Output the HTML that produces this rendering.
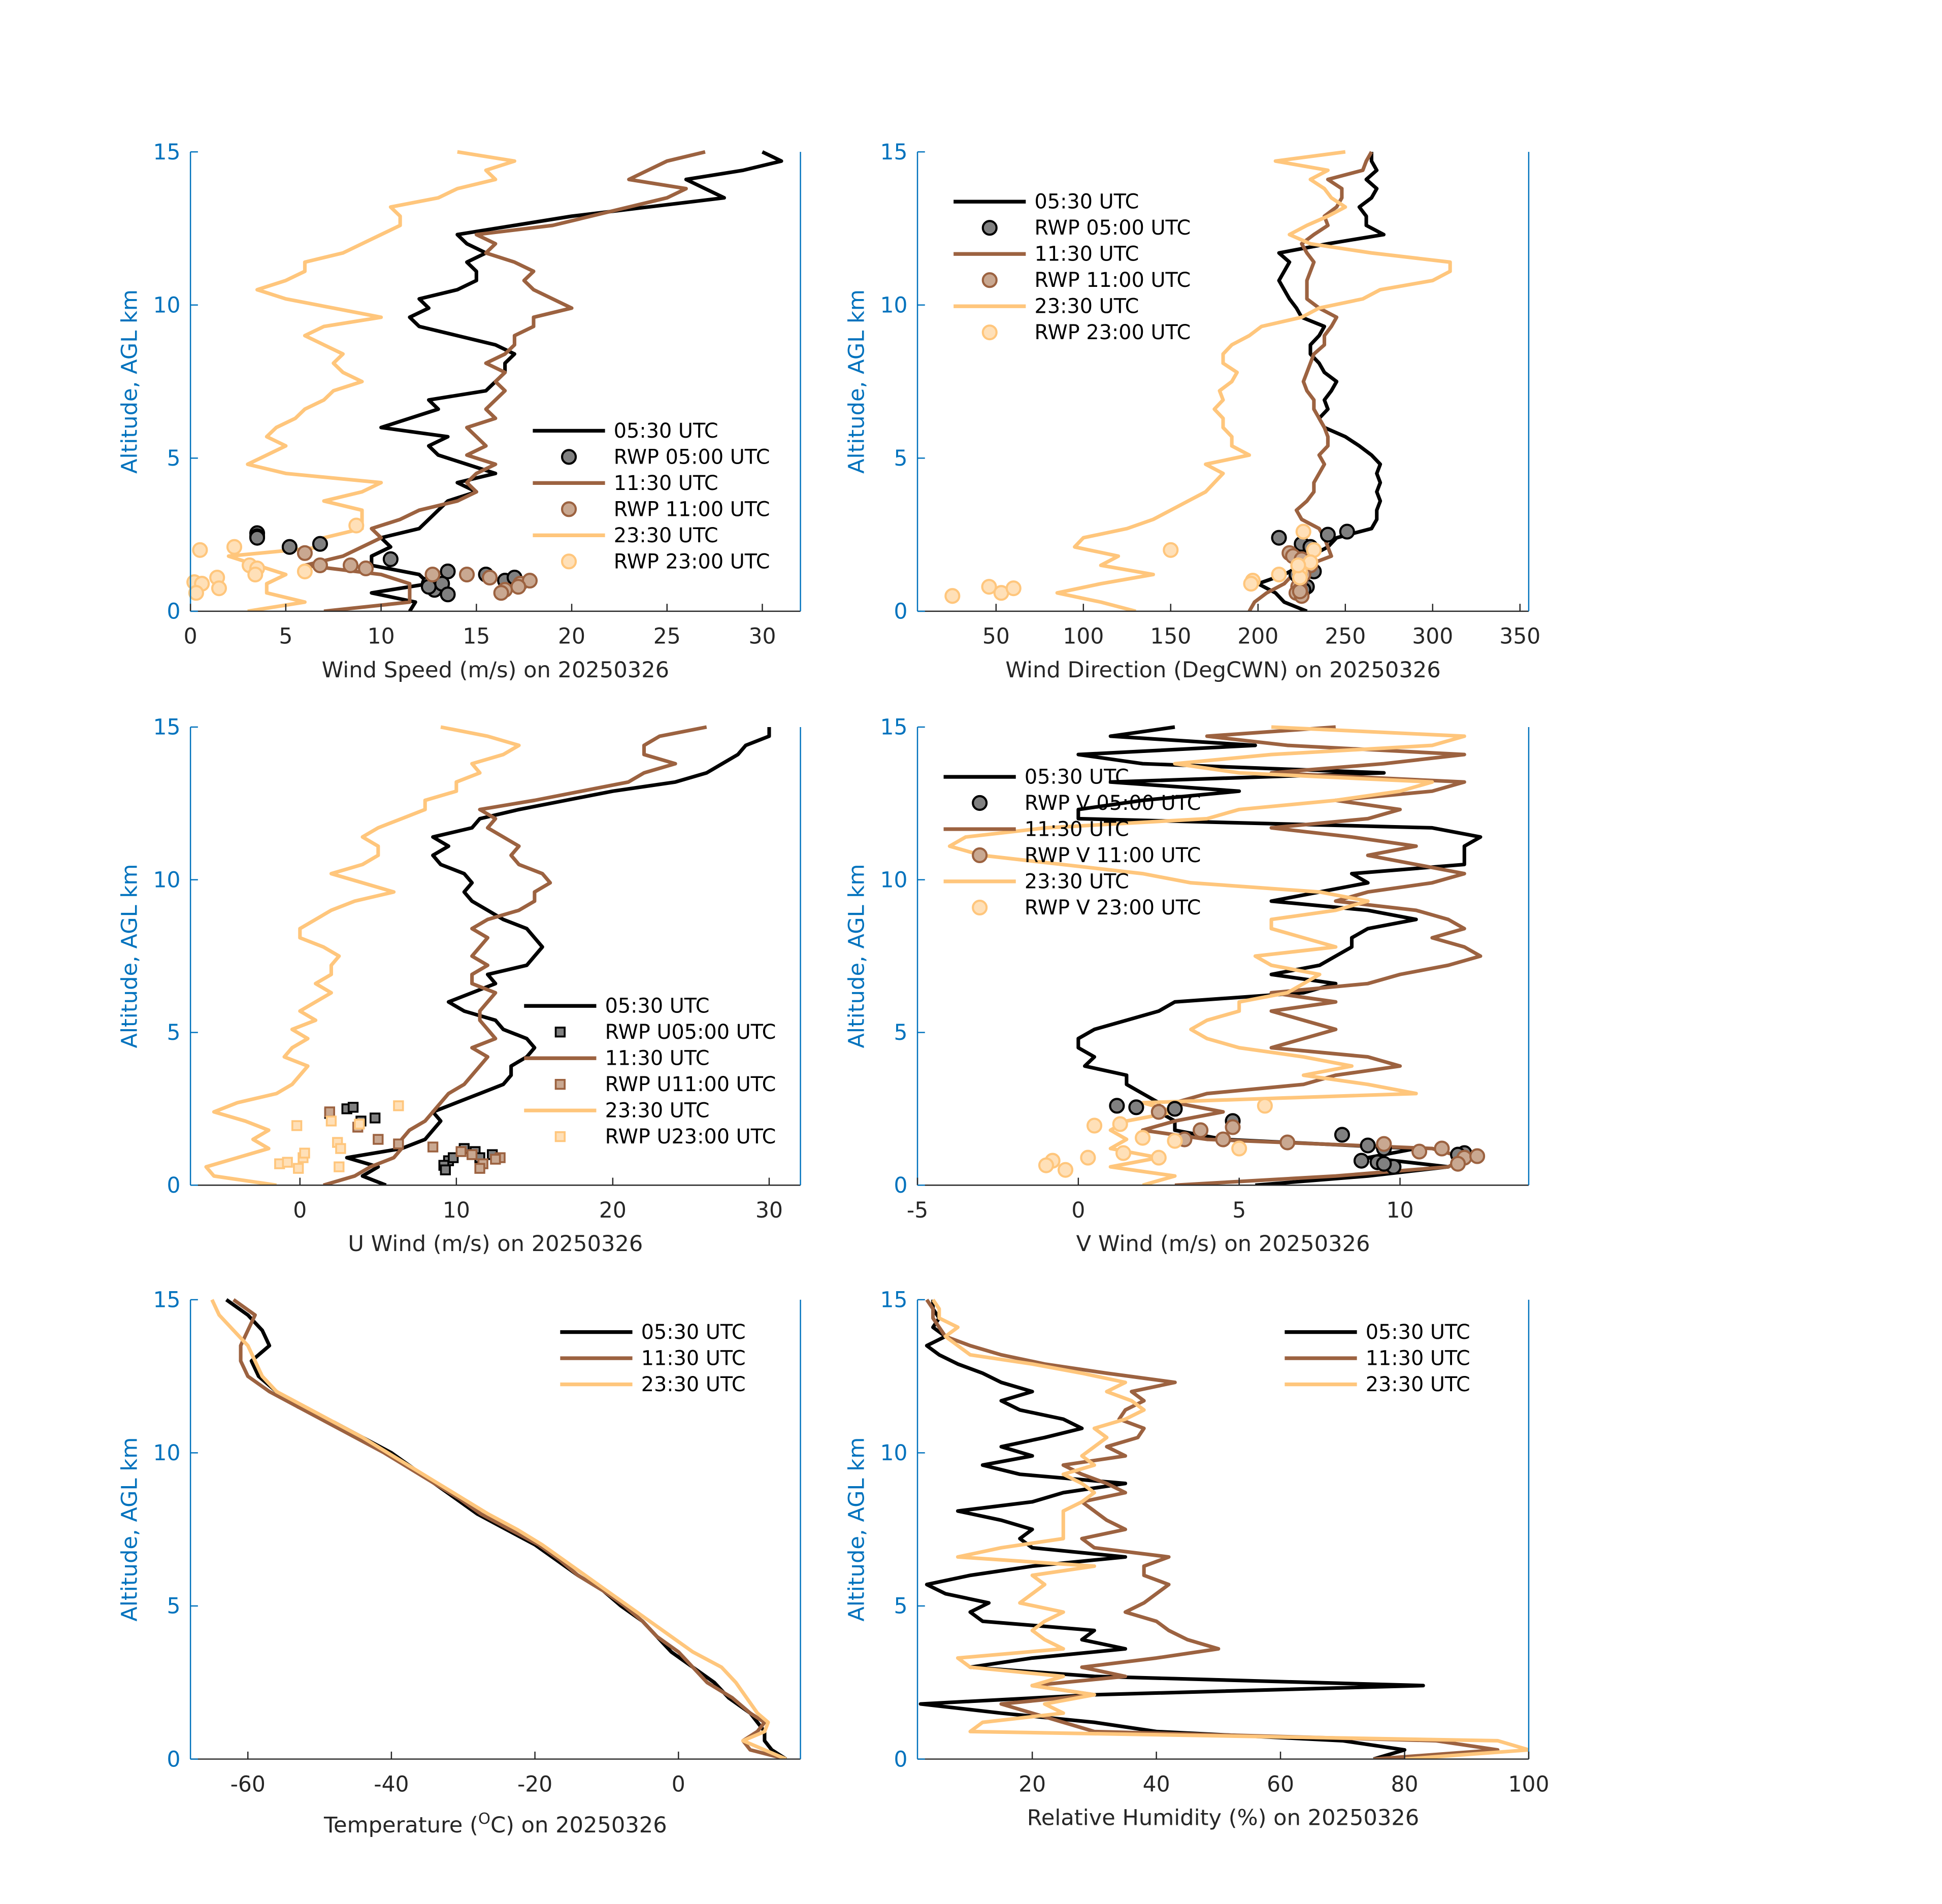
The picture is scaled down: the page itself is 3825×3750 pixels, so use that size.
<!DOCTYPE html>
<html><head><meta charset="utf-8"><style>
html,body{margin:0;padding:0;background:#fff;}
svg{display:block;font-family:"DejaVu Sans","Liberation Sans",sans-serif;}
</style></head><body>
<svg id="fig" xmlns="http://www.w3.org/2000/svg" width="3825" height="3750" viewBox="0 0 1560 1529.4"></svg>
<script>
// ---- data (altitudes in km) ----
const altA=[0,0.3,0.6,0.9,1.2,1.5,1.8,2.1,2.4,2.7,3.0,3.3,3.6,3.9,4.2,4.5,4.8,5.1,5.4,5.7,6.0,6.3,6.6,6.9,7.2,7.5,7.8,8.1,8.4,8.7,9.0,9.3,9.6,9.9,10.2,10.5,10.8,11.1,11.4,11.7,12.0,12.3,12.6,12.9,13.2,13.5,13.8,14.1,14.4,14.7,15];
const altT=[0,0.3,0.6,0.9,1.2,1.5,2,2.5,3,3.5,4,4.5,5,5.5,6,6.5,7,7.5,8,8.5,9,9.5,10,10.5,11,11.5,12,12.5,13,13.5,14,14.5,15];
// wind speed
const wsBlack=[11.5,11.8,9.5,12.5,12,9.5,9.5,10.5,10,12,12.5,13,13.5,15,14,16,14.5,13,12.5,13.5,10,11.5,13,12.5,15.5,16,16.5,16.5,17,16,14,12,11.5,12.5,12,14,15,15,14.5,15.5,14.5,14,17,20,24,28,27,26,29,31,30];
const wsBrown=[7,11.5,11.5,11.5,10,6,8,9,10,9.5,11,12,14,15,14.5,15,16,14.5,15.5,15,14.5,16,15.5,16,16.5,16,16.5,15.5,16.5,17,17,18,18,20,19,18,17.5,18,17,15.5,16,15,19,21,23,25,26,23,24,25,27];
const wsLight=[3,6,4,4,5,3.5,2,7,7,9,9,9,7,9,10,5,3,4,5,4,4.5,5.5,6,7,7.5,9,8,7.5,8,7,6,7,10,7.5,5,3.5,5,6,6,8,9,10,11,11,10.5,13,14,16,15.5,17,14];
const wsR05=[[3.5,2.55],[3.5,2.45],[3.5,2.4],[5.2,2.1],[6.8,2.2],[10.5,1.7],[13.5,1.3],[15.5,1.2],[16.5,1.0],[17,1.1],[12.5,0.9],[12.8,0.7],[13.2,0.9],[13.5,0.55],[12.5,0.8]];
const wsR11=[[6.0,1.9],[6.8,1.5],[8.4,1.5],[9.2,1.4],[12.7,1.2],[14.5,1.2],[15.7,1.1],[16.5,0.7],[16.3,0.6],[17.3,0.9],[17.8,1.0],[17.2,0.8]];
const wsR23=[[0.5,2.0],[2.3,2.1],[3.1,1.5],[3.5,1.4],[3.4,1.2],[6,1.3],[0.2,0.95],[0.6,0.9],[1.4,1.1],[1.5,0.75],[0.3,0.6],[8.7,2.8]];
// wind direction
const wdBlack=[228,215,210,200,215,225,230,240,245,265,268,268,270,268,270,268,270,265,258,250,238,235,240,238,242,245,238,235,230,230,235,238,225,222,218,215,212,215,218,212,240,272,262,262,258,265,268,262,268,265,265];
const wdBrown=[195,198,205,215,220,228,242,240,238,235,225,222,228,232,232,235,238,235,240,240,238,235,232,232,228,226,228,230,232,238,238,242,245,235,228,228,228,230,232,228,225,232,240,238,245,248,248,240,260,262,265];
const wdLight=[130,110,85,110,140,110,120,95,100,125,140,150,160,170,175,180,170,195,185,185,180,180,175,180,178,185,188,180,180,185,195,202,225,235,260,270,300,310,310,265,230,218,228,240,250,242,238,230,240,210,250];
const wdR05=[[212,2.4],[240,2.5],[251,2.6],[225,2.2],[230,2.1],[228,1.5],[232,1.3],[222,1.2],[225,1.0],[228,0.8],[226,0.7],[224,0.6]];
const wdR11=[[218,1.9],[220,1.8],[225,1.7],[230,1.5],[226,1.2],[224,1.0],[223,0.8],[224,0.7],[222,0.6],[225,0.5],[224,0.65]];
const wdR23=[[25,0.5],[46,0.8],[53,0.6],[60,0.75],[150,2.0],[226,2.6],[232,2.0],[230,1.6],[212,1.2],[197,1.0],[196,0.9],[224,1.3],[224,1.1],[223,1.5]];
// U wind
const uBlack=[5.5,4,5,3,6.5,8,8.5,9,8.5,10,11.5,13,13.5,13.5,14.5,15,14.5,13,12.5,10.5,9.5,11,12.5,12,14.5,15,15.5,15,14.5,13,12,11,10.5,11,10.5,9,8.5,9.5,8.5,11,11.5,14,17,20,24,26,27,28,28.5,30,30];
const uBrown=[1.5,3.5,4.5,6,6.5,6.5,7,8,8.5,9,9.5,10.5,11,11.5,12,11,12.5,12,11.5,11.5,12,12.5,11,11,12,11,11.5,12,11,12,14,15,15,16,15.5,14,13.5,14,13,12,12.5,11.5,15,18,21,22,24,22,22,23,26];
const uLight=[-1.5,-5.5,-6,-4,-2,-3,-2,-3.5,-5.5,-4,-1.5,-0.5,0,0.5,-1,-0.5,0.5,-0.5,1,0,1,2,1,2,2,2.5,1.5,0,0,1,2,3.5,6,4,2,4,5,5,4,5,6.5,8,8,10,10,11.5,11,13,14,12,9];
const uR05=[[1.9,2.35],[3.0,2.5],[3.4,2.55],[4.8,2.2],[3.9,2.1],[9.5,0.8],[9.2,0.65],[9.3,0.5],[10.5,1.2],[11.2,1.1],[12.3,1.0],[9.8,0.9],[11.5,0.9]];
const uR11=[[1.9,2.4],[3.7,1.9],[5,1.5],[6.3,1.35],[8.5,1.25],[10.3,1.1],[11.7,0.7],[11.5,0.55],[12.8,0.9],[12.5,0.85],[11,1.0]];
const uR23=[[-0.2,1.95],[2.0,2.1],[2.4,1.4],[2.6,1.2],[3.8,2.0],[6.3,2.6],[-1.3,0.7],[-0.8,0.75],[0.2,0.9],[0.3,1.05],[-0.1,0.55],[2.5,0.6]];
// V wind
const vBlack=[5.5,9,11.5,9,10.5,4.5,3,3,2.5,2.5,2,1.5,1.5,0.2,0.5,0,0,0.5,1.5,2.5,3,7,8,6,7.5,8,8.5,8.5,9,10.5,9,6,7.5,9,8.5,12,12,12,12.5,11,0,0,2,5,1,9.5,2,0,5.5,1,3];
const vBrown=[3,8,11.5,12,11,4,2,3,4.5,3,4,7,8,10,9,6,7,8,7,6,8,6,9,10,11.5,12.5,12,11,12,11.5,10.5,8,9,11,12,10.5,9,10.5,8.5,6,9,10,8,11,12,6,9.5,12,6.5,4,8];
const vLight=[2,3,1,2.5,1,1.5,1,1.5,3,2,10.5,9,7,8.5,7,5,4,3.5,4,5,5,6.5,7,7.5,6,5.5,8,7,6,6,8,9,7.5,3.5,2,-0.5,-3,-4,-3.5,-1,4,5,8,10,11,5,3,6,11,12,6];
const vR05=[[1.2,2.6],[1.8,2.55],[3,2.5],[4.8,2.1],[8.2,1.65],[9,1.3],[9.5,1.2],[12,1.05],[11.8,1.0],[8.8,0.8],[9.3,0.75],[9.8,0.6],[9.5,0.7]];
const vR11=[[2.5,2.4],[3.8,1.8],[4.8,1.9],[3.3,1.5],[6.5,1.4],[9.5,1.35],[10.6,1.1],[12,0.9],[12.4,0.95],[11.8,0.7],[11.3,1.2],[4.5,1.5]];
const vR23=[[5.8,2.6],[0.5,1.95],[1.3,2.0],[2,1.55],[3,1.45],[5,1.2],[0.3,0.9],[-0.8,0.8],[-1,0.65],[-0.4,0.5],[1.4,1.05],[2.5,0.9]];
// temperature
const tBlack=[15,13,12,12,11,10,7,5,2,-1,-3,-5,-8,-10.5,-14,-17,-20,-24,-28,-31,-34,-37,-40,-44,-48,-53,-56,-58.5,-59.5,-57,-58,-60,-63];
const tBrown=[15,10,9,11,12,10,7.5,4,2,0,-3,-5,-7.5,-10.5,-14,-16.5,-19.5,-23.5,-27.5,-30.5,-34,-37.5,-41,-45,-49,-53,-57,-60,-61,-61,-60,-59,-62];
const tLight=[15,12,9,12,12.5,11,9.5,8,6,2,-1,-4,-7,-10,-13,-16,-19,-22.5,-26.5,-30,-33.5,-37,-40.5,-44,-48,-52,-56,-58,-59,-60,-62,-64,-65];
// relative humidity
const rhBlack=[75,80,70,40,30,15,2,30,83,30,10,20,35,28,30,12,10,13,6,3,10,20,35,20,18,20,15,8,20,25,35,18,12,20,15,22,28,25,18,15,20,15,12,8,5,3,6,4,5,4,4];
const rhBrown=[75,95,85,30,25,20,15,30,20,35,28,40,50,45,42,40,35,38,40,42,38,38,42,30,28,35,32,30,28,35,32,28,25,35,32,37,38,34,35,38,36,43,32,22,15,10,6,5,4,4,3];
const rhLight=[80,100,95,10,12,25,22,30,20,25,10,8,25,22,20,22,25,18,20,22,20,30,8,15,25,25,25,25,28,30,28,25,30,28,30,32,30,35,38,36,32,35,28,20,10,8,6,8,5,5,4];
const altTicks=[0,5,10,15];
const ticks1=[0,5,10,15,20,25,30], ticks2=[50,100,150,200,250,300,350], ticks3=[0,10,20,30], ticks4=[-5,0,5,10], ticks5=[-60,-40,-20,0], ticks6=[20,40,60,80,100];

const NS="http://www.w3.org/2000/svg";
const svg=document.getElementById('fig');
const C={k:'#000000',b:'#9c6240',l:'#ffc67c'};
const F={k:'#808080',b:'#c9a891',l:'#ffe0b8'};
function mk(tag,attrs,parent,txt){const e=document.createElementNS(NS,tag);for(const k in attrs)e.setAttribute(k,attrs[k]);if(txt!==undefined)e.textContent=txt;(parent||svg).appendChild(e);return e;}

function panel(id,x0,x1,y0,y1,xmin,xmax,xticks,xlabel,lines,scat,legend,shape){
  const g=mk('g',{});
  
  
  const X=v=>x0+(v-xmin)/(xmax-xmin)*(x1-x0);
  const Y=a=>y1-a/15*(y1-y0);
  const clipId='clip-'+id;
  const cp=mk('clipPath',{id:clipId},g);mk('rect',{x:x0,y:y0-3,width:x1-x0,height:y1-y0+3},cp);
  const names=['line-0530','line-1130','line-2330'];
  lines.forEach((ln,i)=>{
    const d=ln.vals.map((v,j)=>(j?'L':'M')+X(v).toFixed(2)+' '+Y(ln.alt[j]).toFixed(2)).join(' ');
    const p=mk('path',{d:d,fill:'none',stroke:ln.c,'stroke-width':2.9,'stroke-linejoin':'round','clip-path':'url(#'+clipId+')'},g);
    
    
  });
  (scat||[]).forEach((s,i)=>{
    s.pts.forEach(pt=>{
      let m;
      if(shape==='sq') m=mk('rect',{x:X(pt[0])-3.6,y:Y(pt[1])-3.6,width:7.2,height:7.2,fill:s.f,stroke:s.c,'stroke-width':1.5},g);
      else m=mk('circle',{cx:X(pt[0]),cy:Y(pt[1]),r:5.5,fill:s.f,stroke:s.c,'stroke-width':1.7},g);
      
      
    });
  });
  const ax=mk('line',{x1:x0,y1:y1,x2:x1,y2:y1,stroke:'#262626','stroke-width':1},g);
  
  mk('line',{x1:x0,y1:y0,x2:x0,y2:y1,stroke:'#0072bd','stroke-width':1},g);
  mk('line',{x1:x1,y1:y0,x2:x1,y2:y1,stroke:'#0072bd','stroke-width':1},g);
  xticks.forEach(t=>{
    const x=X(t);
    mk('line',{x1:x,y1:y1,x2:x,y2:y1-6,stroke:'#262626','stroke-width':1},g);
    const tl=mk('text',{x:x,y:y1+26,'text-anchor':'middle','font-size':17.3,fill:'#262626'},g,String(t));
    
  });
  altTicks.forEach(t=>{
    const y=Y(t);
    mk('line',{x1:x0,y1:y,x2:x0+6,y2:y,stroke:'#0072bd','stroke-width':1},g);
    const tl=mk('text',{x:x0-8,y:y+6,'text-anchor':'end','font-size':17.3,fill:'#0072bd'},g,String(t));
    
  });
  const xl=mk('text',{x:(x0+x1)/2,y:y1+(id==='temp'?59:53),'text-anchor':'middle','font-size':17.6,fill:'#262626'},g);
  if(id==='temp'){xl.innerHTML='Temperature (<tspan dy="-7" font-size="12.5">O</tspan><tspan dy="7">C) on 20250326</tspan>';}
  else xl.textContent=xlabel;
  
  const yl=mk('text',{x:0,y:0,'text-anchor':'middle','font-size':17.6,fill:'#0072bd',transform:'translate('+(x0-43)+','+((y0+y1)/2)+') rotate(-90)'},g,'Altitude, AGL km');
  
  const lg=mk('g',{},g);
  
  
  legend.items.forEach((it,i)=>{
    const y=legend.y+i*21;
    if(it.type==='line') mk('line',{x1:legend.x,y1:y,x2:legend.x+58,y2:y,stroke:it.c,'stroke-width':3},lg);
    else if(shape==='sq') mk('rect',{x:legend.x+25.4,y:y-3.6,width:7.2,height:7.2,fill:it.f,stroke:it.c,'stroke-width':1.5},lg);
    else mk('circle',{cx:legend.x+29,cy:y,r:5.5,fill:it.f,stroke:it.c,'stroke-width':1.7},lg);
    const t=mk('text',{x:legend.x+65,y:y+5.5,'font-size':16.2,fill:'#000'},lg,it.t);
    
    
  });
}
function L3(alt,a,b,c){return [{alt:alt,vals:a,c:C.k},{alt:alt,vals:b,c:C.b},{alt:alt,vals:c,c:C.l}];}
function S3(a,b,c){return [{pts:a,c:C.k,f:F.k},{pts:b,c:C.b,f:F.b},{pts:c,c:C.l,f:F.l}];}
function legItems(pref){return [{type:'line',c:C.k,t:'05:30 UTC'},{type:'m',c:C.k,f:F.k,t:pref[0]},{type:'line',c:C.b,t:'11:30 UTC'},{type:'m',c:C.b,f:F.b,t:pref[1]},{type:'line',c:C.l,t:'23:30 UTC'},{type:'m',c:C.l,f:F.l,t:pref[2]}];}
const L3only=[{type:'line',c:C.k,t:'05:30 UTC'},{type:'line',c:C.b,t:'11:30 UTC'},{type:'line',c:C.l,t:'23:30 UTC'}];

panel('wind-speed',153,643,122,491,0,32,ticks1,'Wind Speed (m/s) on 20250326',L3(altA,wsBlack,wsBrown,wsLight),S3(wsR05,wsR11,wsR23),{x:428,y:346,items:legItems(['RWP 05:00 UTC','RWP 11:00 UTC','RWP 23:00 UTC'])});
panel('wind-direction',737,1228,122,491,5,355,ticks2,'Wind Direction (DegCWN) on 20250326',L3(altA,wdBlack,wdBrown,wdLight),S3(wdR05,wdR11,wdR23),{x:766,y:162,items:legItems(['RWP 05:00 UTC','RWP 11:00 UTC','RWP 23:00 UTC'])});
panel('u-wind',153,643,584,952,-7,32,ticks3,'U Wind (m/s) on 20250326',L3(altA,uBlack,uBrown,uLight),S3(uR05,uR11,uR23),{x:421,y:808,items:legItems(['RWP U05:00 UTC','RWP U11:00 UTC','RWP U23:00 UTC'])},'sq');
panel('v-wind',737,1228,584,952,-5,14,ticks4,'V Wind (m/s) on 20250326',L3(altA,vBlack,vBrown,vLight),S3(vR05,vR11,vR23),{x:758,y:624,items:legItems(['RWP V 05:00 UTC','RWP V 11:00 UTC','RWP V 23:00 UTC'])});
panel('temp',153,643,1044,1413,-68,17,ticks5,'',L3(altT,tBlack,tBrown,tLight),[],{x:450,y:1070,items:L3only});
panel('rh',737,1228,1044,1413,1.5,100,ticks6,'Relative Humidity (%) on 20250326',L3(altA,rhBlack,rhBrown,rhLight),[],{x:1032,y:1070,items:L3only});
</script>
</body></html>
